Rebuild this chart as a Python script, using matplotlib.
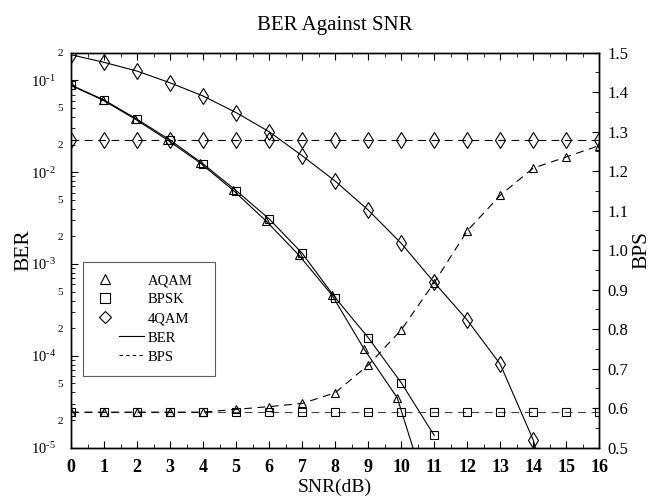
import matplotlib
matplotlib.use("Agg")
import matplotlib.pyplot as plt
from matplotlib.lines import Line2D
from matplotlib.ticker import FixedLocator, FuncFormatter, MultipleLocator
import numpy as np

plt.rcParams['font.family'] = ['Liberation Serif', 'DejaVu Serif']
plt.rcParams['mathtext.fontset'] = 'custom'
plt.rcParams['mathtext.rm'] = 'Liberation Serif'
plt.rcParams['mathtext.it'] = 'Liberation Serif:italic'

# SNR grid (dB)
snr = [0, 1, 2, 3, 4, 5, 6, 7, 8, 9, 10, 11, 12, 13, 14, 15, 16]

# BER curves (left axis, log)
aqam_ber_snr = [0, 0.96, 1.94, 2.92, 3.9, 4.9, 5.9, 6.9, 7.9, 8.88, 9.88, 10.88]
aqam_ber = [0.088, 0.061, 0.0379, 0.0224, 0.0127, 0.0064, 0.00296, 0.00125,
            4.6e-4, 1.18e-4, 3.5e-5, 2.5e-6]
bpsk_ber_snr = [0, 1, 2, 3, 4, 5, 6, 7, 8, 9, 10, 11]
bpsk_ber = [0.0889, 0.0611, 0.0377, 0.0224, 0.0123, 0.0063, 0.0031, 0.00131,
            4.3e-4, 1.58e-4, 5.1e-5, 1.36e-5]
qam4_ber_snr = [0, 1, 2, 3, 4, 5, 6, 7, 8, 9, 10, 11, 12, 13, 14, 15]
qam4_ber = [0.19, 0.157, 0.126, 0.094, 0.0675, 0.0445, 0.0276, 0.0151, 0.0080,
            0.00387, 0.00168, 6.3e-4, 2.45e-4, 8.1e-5, 1.21e-5, 5e-7]

# BPS curves (right axis)
aqam_bps = [0.59, 0.59, 0.59, 0.59, 0.59, 0.597, 0.604, 0.612, 0.639, 0.709,
            0.798, 0.918, 1.049, 1.139, 1.208, 1.236, 1.265]
bpsk_bps = [0.59, 0.59, 0.59, 0.59, 0.59, 0.59, 0.59, 0.59, 0.59, 0.59,
            0.59, 0.59, 0.59, 0.59, 0.59, 0.59, 0.59]
qam4_bps = [1.28, 1.28, 1.28, 1.28, 1.28, 1.28, 1.28, 1.28, 1.28, 1.28,
            1.28, 1.28, 1.28, 1.28, 1.28, 1.28, 1.28]

ber_major = [1e-5, 1e-4, 1e-3, 1e-2, 1e-1]
ber_minor = [m * d for d in [1e-5, 1e-4, 1e-3, 1e-2, 1e-1] for m in range(2, 10)]

LW = 0.8
DASH = (7, 5)
mk = dict(markerfacecolor='none', markeredgecolor='black', markeredgewidth=0.8)


class LegendSample:
    """legend handle: marker at the left, or a line sample on the right"""
    def __init__(self, marker=None, ms=6, dashes=None):
        self.marker = marker
        self.ms = ms
        self.dashes = dashes

    def legend_artist(self, legend, orig_handle, fontsize, handlebox):
        x0, y0 = handlebox.xdescent, handlebox.ydescent
        w, h = handlebox.width, handlebox.height
        yc = y0 + h / 2
        if self.marker:
            art = Line2D([x0 + 0.19 * w], [yc], marker=self.marker, ms=self.ms,
                         linestyle='none', **mk)
        else:
            art = Line2D([x0 + 0.485 * w, x0 + w], [yc, yc], color='black', lw=LW)
            if self.dashes:
                art.set_dashes(self.dashes)
        art.set_transform(handlebox.get_transform())
        handlebox.add_artist(art)
        return art


def run():
    fig = plt.figure(figsize=(6.7, 4.96), dpi=100)
    ax = fig.add_axes([0.106, 0.0974, 0.7885, 0.7964])
    ax2 = ax.twinx()

    ax.plot(aqam_ber_snr, aqam_ber, color='black', lw=LW, marker='^', ms=6, **mk)
    ax.plot(bpsk_ber_snr, bpsk_ber, color='black', lw=LW, marker='s', ms=6, **mk)
    ax.plot(qam4_ber_snr, qam4_ber, color='black', lw=LW, marker='d', ms=8, **mk)

    ax2.plot(snr, bpsk_bps, color='#444444', lw=LW, dashes=DASH, marker='s', ms=6, **mk)
    ax2.plot(snr, aqam_bps, color='black', lw=LW, dashes=DASH, marker='^', ms=6, **mk)
    ax2.plot(snr, qam4_bps, color='black', lw=LW, dashes=DASH, marker='d', ms=8, **mk)

    ax.set_yscale('log')
    ax.set_ylim(1e-5, 2e-1)
    ax.set_xlim(0, 16)
    ax2.set_ylim(0.5, 1.5)

    ax.yaxis.set_major_locator(FixedLocator(ber_major))
    ax.yaxis.set_minor_locator(FixedLocator(ber_minor))
    ax.yaxis.set_major_formatter(FuncFormatter(
        lambda v, p: r'$10^{\text{-}%d}$' % abs(int(round(np.log10(v))))))

    def minor_fmt(v, p):
        m = int(round(v / 10 ** np.floor(np.log10(v) + 1e-9)))
        return str(m) if m in (2, 5) else ''
    ax.yaxis.set_minor_formatter(FuncFormatter(minor_fmt))

    ax.xaxis.set_major_locator(MultipleLocator(1))
    ax.xaxis.set_minor_locator(MultipleLocator(0.5))
    ax2.yaxis.set_major_locator(MultipleLocator(0.1))
    ax2.yaxis.set_minor_locator(MultipleLocator(0.05))
    ax2.yaxis.set_major_formatter(FuncFormatter(lambda v, p: '%.1f' % v))

    ax.tick_params(axis='x', which='both', direction='in', top=True, labelsize=13, pad=8)
    ax.tick_params(axis='x', which='major', length=5)
    ax.tick_params(axis='x', which='minor', length=3)
    ax.tick_params(axis='y', which='major', direction='in', length=5, labelsize=10.5, pad=11)
    ax.tick_params(axis='y', which='minor', direction='in', length=3, labelsize=8, pad=6)
    ax2.tick_params(axis='y', which='major', direction='in', length=5, labelsize=12, pad=6)
    ax2.tick_params(axis='y', which='minor', direction='in', length=3)
    for t in ax.get_xticklabels():
        t.set_fontweight('bold')

    for a in (ax, ax2):
        for s in a.spines.values():
            s.set_linewidth(1.0)

    ax.set_title('BER Against SNR', fontsize=15, pad=16)
    ax.set_xlabel('SNR(dB)', fontsize=14, labelpad=2)
    ax.set_ylabel('BER', fontsize=15.5)
    ax.yaxis.set_label_coords(-0.072, 0.5)
    ax2.set_ylabel('BPS', fontsize=15.5, labelpad=3)

    handles = [Line2D([], []) for _ in range(5)]
    labels = ['AQAM', 'BPSK', '4QAM', 'BER', 'BPS']
    hmap = {handles[0]: LegendSample('^', 7), handles[1]: LegendSample('s', 7),
            handles[2]: LegendSample('D', 6.5), handles[3]: LegendSample(),
            handles[4]: LegendSample(dashes=(3, 3))}
    leg = ax2.legend(handles, labels, handler_map=hmap, loc='lower left',
                     bbox_to_anchor=(0.0227, 0.1815, 0.25, 0.2831), mode='expand',
                     borderaxespad=0, fontsize=10.5, frameon=True, fancybox=False,
                     handlelength=3.3, handletextpad=0.27, labelspacing=0.4,
                     borderpad=0.85)
    leg.get_frame().set_edgecolor('#333333')
    leg.get_frame().set_linewidth(0.8)

    fig.savefig('out.png', dpi=100)


if __name__ == '__main__':
    run()
